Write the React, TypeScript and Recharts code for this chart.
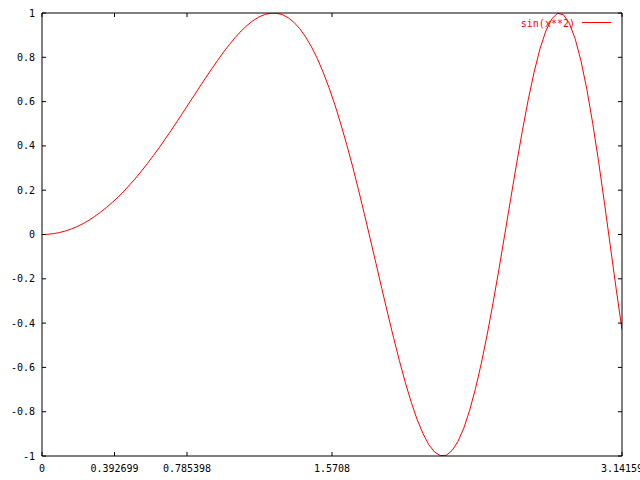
import React from 'react';
import { LineChart, Line, XAxis, YAxis } from 'recharts';

// sample positions (x) and curve values
const xs = [
  0, 0.03173, 0.06347, 0.0952, 0.12693, 0.15867, 0.1904, 0.22213, 0.25387, 0.2856,
  0.31733, 0.34907, 0.3808, 0.41253, 0.44427, 0.476, 0.50773, 0.53947, 0.5712, 0.60293,
  0.63467, 0.6664, 0.69813, 0.72987, 0.7616, 0.79333, 0.82507, 0.8568, 0.88853, 0.92027,
  0.952, 0.98373, 1.01547, 1.0472, 1.07893, 1.11067, 1.1424, 1.17413, 1.20587, 1.2376,
  1.26933, 1.30107, 1.3328, 1.36453, 1.39627, 1.428, 1.45973, 1.49147, 1.5232, 1.55493,
  1.58667, 1.6184, 1.65013, 1.68187, 1.7136, 1.74533, 1.77707, 1.8088, 1.84053, 1.87227,
  1.904, 1.93573, 1.96747, 1.9992, 2.03093, 2.06267, 2.0944, 2.12613, 2.15787, 2.1896,
  2.22133, 2.25307, 2.2848, 2.31653, 2.34827, 2.38, 2.41173, 2.44347, 2.4752, 2.50693,
  2.53867, 2.5704, 2.60213, 2.63387, 2.6656, 2.69733, 2.72907, 2.7608, 2.79253, 2.82427,
  2.856, 2.88773, 2.91947, 2.9512, 2.98293, 3.01467, 3.0464, 3.07813, 3.10987, 3.14159,
];

const sinX2 = [
  0, 0.001, 0.004, 0.009, 0.016, 0.025, 0.036, 0.049, 0.064, 0.082,
  0.101, 0.122, 0.145, 0.169, 0.196, 0.225, 0.255, 0.287, 0.321, 0.356,
  0.392, 0.43, 0.468, 0.508, 0.548, 0.589, 0.629, 0.67, 0.71, 0.749,
  0.787, 0.824, 0.858, 0.89, 0.919, 0.944, 0.965, 0.982, 0.993, 0.999,
  0.999, 0.993, 0.979, 0.958, 0.929, 0.892, 0.847, 0.794, 0.732, 0.662,
  0.585, 0.499, 0.407, 0.309, 0.204, 0.095, -0.017, -0.13, -0.244, -0.356,
  -0.465, -0.569, -0.667, -0.755, -0.833, -0.897, -0.948, -0.982, -0.998, -0.997,
  -0.975, -0.934, -0.874, -0.793, -0.695, -0.58, -0.45, -0.307, -0.156, 0.002,
  0.161, 0.319, 0.469, 0.609, 0.733, 0.838, 0.919, 0.973, 0.999, 0.992,
  0.954, 0.884, 0.784, 0.655, 0.502, 0.33, 0.143, -0.051, -0.245, -0.43,
];

const xTicks = [0, 0.392699, 0.785398, 1.5708, 3.14159];
const yTicks = [-1, -0.8, -0.6, -0.4, -0.2, 0, 0.2, 0.4, 0.6, 0.8, 1];

const FONT = '"DejaVu Sans Mono", monospace';
const TIC = 4;

const data = xs.map((x, i) => ({ x, y: sinX2[i] }));

const BottomTick = (props: any) => {
  const { x, y, payload } = props;
  return (
    <g>
      <line x1={x} y1={y} x2={x} y2={y - TIC} stroke="#000" />
      <text x={x} y={y + 12} dy="0.35em" textAnchor="middle" fontFamily={FONT} fontSize={10} fill="#000">
        {String(payload.value)}
      </text>
    </g>
  );
};

const TopTick = (props: any) => {
  const { x, y } = props;
  return <line x1={x} y1={y} x2={x} y2={y + TIC} stroke="#000" />;
};

const LeftTick = (props: any) => {
  const { x, y, payload } = props;
  return (
    <g>
      <line x1={x} y1={y} x2={x + TIC} y2={y} stroke="#000" />
      <text x={x - 7} y={y} dy="0.35em" textAnchor="end" fontFamily={FONT} fontSize={10} fill="#000">
        {String(payload.value)}
      </text>
    </g>
  );
};

const RightTick = (props: any) => {
  const { x, y } = props;
  return <line x1={x} y1={y} x2={x - TIC} y2={y} stroke="#000" />;
};

export default function App() {
  return (
    <div style={{ position: 'absolute', left: 0, top: 0, width: 640, height: 480, overflow: 'hidden', background: '#fff' }}>
      <LineChart width={640} height={480} data={data} margin={{ top: 0, right: 0, bottom: 0, left: 0 }}>
        <XAxis
          xAxisId="b"
          dataKey="x"
          type="number"
          domain={[0, 3.14159]}
          allowDataOverflow
          ticks={xTicks}
          interval={0}
          height={24}
          tickSize={0}
          tickMargin={0}
          tickLine={false}
          axisLine={{ stroke: '#000' }}
          tick={<BottomTick />}
        />
        <XAxis
          xAxisId="t"
          orientation="top"
          dataKey="x"
          type="number"
          domain={[0, 3.14159]}
          allowDataOverflow
          ticks={xTicks}
          interval={0}
          height={13}
          tickSize={0}
          tickMargin={0}
          tickLine={false}
          axisLine={{ stroke: '#000' }}
          tick={<TopTick />}
        />
        <YAxis
          yAxisId="l"
          type="number"
          domain={[-1, 1]}
          allowDataOverflow
          ticks={yTicks}
          interval={0}
          width={42}
          tickSize={0}
          tickMargin={0}
          tickLine={false}
          axisLine={{ stroke: '#000' }}
          tick={<LeftTick />}
        />
        <YAxis
          yAxisId="r"
          orientation="right"
          type="number"
          domain={[-1, 1]}
          allowDataOverflow
          ticks={yTicks}
          interval={0}
          width={18}
          tickSize={0}
          tickMargin={0}
          tickLine={false}
          axisLine={{ stroke: '#000' }}
          tick={<RightTick />}
        />
        <Line
          xAxisId="b"
          yAxisId="l"
          type="linear"
          dataKey="y"
          stroke="#ff0000"
          strokeWidth={1}
          dot={false}
          isAnimationActive={false}
        />
      </LineChart>
      <svg width={640} height={480} style={{ position: 'absolute', left: 0, top: 0, pointerEvents: 'none' }}>
        <text x={575} y={23} dy="0.35em" textAnchor="end" fontFamily={FONT} fontSize={10} fill="#ff0000">
          sin(x**2)
        </text>
        <line x1={582} y1={22.5} x2={611} y2={22.5} stroke="#ff0000" />
      </svg>
    </div>
  );
}
